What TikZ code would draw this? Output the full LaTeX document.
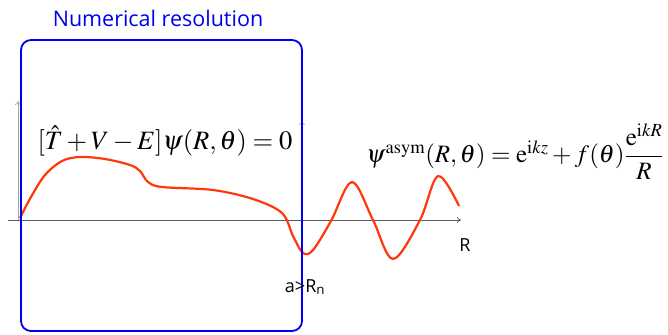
\documentclass[tikz,border=0pt]{standalone}
\usepackage{amsmath}
\usepackage{mathptmx}
\usepackage{fontspec}
\setsansfont{Open Sans}
\usetikzlibrary{arrows.meta,positioning}
\definecolor{BoxBlue}{RGB}{0, 0, 240}
\definecolor{WaveRed}{RGB}{255, 55, 10}
\definecolor{AxisGray}{RGB}{90, 90, 90}
\tikzset{
  axis/.style={draw=AxisGray, line width=0.7pt, -{To[length=4pt,width=6pt]}},
  lbl/.style={font=\sffamily\fontsize{18}{20}\selectfont, text=black, inner sep=0pt},
  eq/.style={font=\fontsize{25}{30}\selectfont, inner sep=0pt}
}
\begin{document}
\begin{tikzpicture}[x=1pt, y=-1pt]
  \useasboundingbox (0,0) rectangle (668,334);
  % Axes
  \coordinate (orig) at (18,220);
  \coordinate (xleft) at (8,220);
  \coordinate (xend) at (461,220);
  \coordinate (ytop) at (18,101);
  \coordinate (abot) at (302,220);
  \coordinate (atop) at (302,121);
  \draw[axis] (xleft) -- (xend);
  \draw[axis, draw=gray!70] (orig) -- (ytop);
  \draw[axis, draw=gray!70, dashed, line width=0.5pt] (abot) -- (atop);
  % Wave function
  \draw[WaveRed, line width=2.2pt, line join=round] plot[smooth, tension=0.55] coordinates {
    (20,218) (31,197) (45,175) (62,161) (80,157) (105,159) (130,165) (140,171)
    (148,182) (162,187) (213,190) (253,199) (282,213) (293,236) (303,253) (313,250)
    (331,221) (352,182) (373,220) (393,259) (420,220) (438,176) (459,206)};
  % Inner region
  \node[draw=BoxBlue, line width=1.8pt, rounded corners=10pt, minimum width=281pt, minimum height=291pt] (box) at (161.5,185.5) {};
  \node[font=\sffamily\fontsize{21.5}{24}\selectfont, text=BoxBlue, inner sep=0pt] (title) at (158,18) {Numerical resolution};
  % Equations
  \node[eq, font=\fontsize{26.5}{30}\selectfont] (eqin) at (165,141) {$[\hat{T}+V-E]\psi(R,\theta)=0$};
  \node[eq] (eqout) at (515,152) {$\psi^{\mathrm{asym}}(R,\theta)=\mathrm{e}^{\mathrm{i}kz}+f(\theta)\dfrac{\mathrm{e}^{\mathrm{i}kR}}{R}$};
  % Labels
  \node[lbl] (rlab) at (465,245) {R};
  \node[lbl] (alab) at (305,287) {a>R\textsubscript{n}};
\end{tikzpicture}
\end{document}
